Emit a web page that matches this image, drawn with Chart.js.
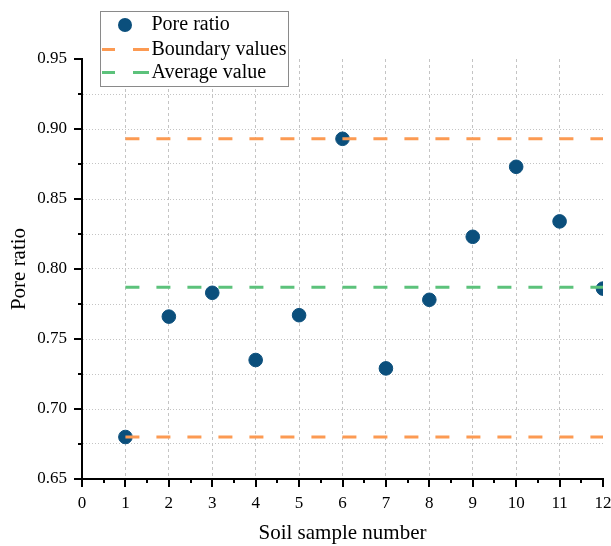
<!DOCTYPE html>
<html>
<head>
<meta charset="utf-8">
<script src="https://cdn.jsdelivr.net/npm/chart.js@4"></script>
<style>
  html, body { margin: 0; padding: 0; background: #fff; }
  #wrap { width: 611px; height: 546px; }
</style>
</head>
<body>
<div id="wrap"><canvas id="c" width="611" height="546"></canvas></div>
<script>
// ---- data ----
const sampleNumbers = [1, 2, 3, 4, 5, 6, 7, 8, 9, 10, 11, 12];
const poreRatio = [0.680, 0.766, 0.783, 0.735, 0.767, 0.893, 0.729, 0.778, 0.823, 0.873, 0.834, 0.786];
const boundaryLower = 0.680;
const boundaryUpper = 0.893;
const averageValue = 0.787;
const lineStartX = 1;
const lineEndX = 12;
const xAxisMin = 0, xAxisMax = 12;
const yAxisMin = 0.65, yAxisMax = 0.95;
const seriesLabels = ['Pore ratio', 'Boundary values', 'Average value'];
const axisTitles = { x: 'Soil sample number', y: 'Pore ratio' };

const COL_POINT = '#0B4F7C';
const COL_BOUND = '#FC9A52';
const COL_AVG = '#5CC27B';
const FONT = '"Liberation Serif", "Times New Roman", serif';

const scatterData = sampleNumbers.map((x, i) => ({ x: x, y: poreRatio[i] }));
const hLine = (v) => [{ x: lineStartX, y: v }, { x: lineEndX, y: v }];

const isMajor = (v, step) => Math.abs(v / step - Math.round(v / step)) < 1e-6;

const axisTicksPlugin = {
  id: 'axisTicks',
  afterDraw(chart) {
    const ctx = chart.ctx;
    const xs = chart.scales.x, ys = chart.scales.y;
    ctx.save();
    ctx.strokeStyle = '#000';
    ctx.lineWidth = 2;
    ctx.beginPath();
    xs.ticks.forEach(t => {
      const px = Math.round(xs.getPixelForValue(t.value));
      const len = isMajor(t.value, 1) ? 8 : 4;
      ctx.moveTo(px, xs.top);
      ctx.lineTo(px, xs.top + len);
    });
    ys.ticks.forEach(t => {
      const py = Math.round(ys.getPixelForValue(t.value));
      const len = isMajor(t.value, 0.05) ? 8 : 4;
      ctx.moveTo(ys.right, py);
      ctx.lineTo(ys.right - len, py);
    });
    ctx.stroke();
    ctx.restore();
  }
};

const customLegendPlugin = {
  id: 'customLegend',
  afterDraw(chart) {
    const ctx = chart.ctx;
    const ds = chart.data.datasets;
    ctx.save();
    ctx.fillStyle = '#fff';
    ctx.fillRect(100, 11, 188, 75);
    ctx.strokeStyle = '#8a8a8a';
    ctx.lineWidth = 1;
    ctx.strokeRect(100.5, 11.5, 188, 75);
    const rows = [25, 49.5, 72.5];
    ctx.font = '20px ' + FONT;
    ctx.textBaseline = 'middle';
    ctx.textAlign = 'left';
    ctx.beginPath();
    ctx.arc(125, rows[0], 7, 0, Math.PI * 2);
    ctx.fillStyle = ds[0].backgroundColor;
    ctx.fill();
    [[ds[1].borderColor, rows[1]], [ds[3].borderColor, rows[2]]].forEach(([c, y]) => {
      ctx.strokeStyle = c;
      ctx.lineWidth = 3;
      ctx.beginPath();
      ctx.moveTo(102, y); ctx.lineTo(115, y);
      ctx.moveTo(133, y); ctx.lineTo(149, y);
      ctx.stroke();
    });
    ctx.fillStyle = '#000';
    ctx.fillText(ds[0].label, 151.5, rows[0]);
    ctx.fillText(ds[1].label, 151.5, rows[1]);
    ctx.fillText(ds[3].label, 151.5, rows[2]);
    ctx.restore();
  }
};

const lineStyle = (color) => ({
  type: 'line',
  borderColor: color,
  backgroundColor: color,
  borderWidth: 3,
  borderDash: [14, 17],
  pointRadius: 0,
  showLine: true,
  fill: false,
  order: 0
});

new Chart(document.getElementById('c'), {
  type: 'scatter',
  data: {
    datasets: [
      { label: seriesLabels[0], data: scatterData, backgroundColor: COL_POINT, borderColor: COL_POINT,
        pointRadius: 6.8, pointHoverRadius: 6.8, order: 1 },
      Object.assign({ label: seriesLabels[1], data: hLine(boundaryLower) }, lineStyle(COL_BOUND)),
      Object.assign({ label: seriesLabels[1], data: hLine(boundaryUpper) }, lineStyle(COL_BOUND)),
      Object.assign({ label: seriesLabels[2], data: hLine(averageValue) }, lineStyle(COL_AVG))
    ]
  },
  options: {
    responsive: false,
    animation: false,
    events: [],
    layout: { padding: { top: 59, right: 8, bottom: 0, left: 0 } },
    plugins: { legend: { display: false }, tooltip: { enabled: false } },
    scales: {
      x: {
        type: 'linear', min: xAxisMin, max: xAxisMax,
        afterFit(s) { s.height = 67; s.paddingLeft = 0; s.paddingRight = 0; },
        border: { display: true, color: '#000', width: 2, dash: [3, 3] },
        grid: {
          drawTicks: false,
          lineWidth: 1,
          color: (c) => {
            const v = c.tick ? c.tick.value : 0;
            return (isMajor(v, 1) && v > xAxisMin && v < xAxisMax) ? '#c4c4c4' : 'rgba(0,0,0,0)';
          }
        },
        ticks: {
          stepSize: 0.5, autoSkip: false, maxRotation: 0, padding: 14,
          color: '#000', font: { family: FONT, size: 17 },
          callback: (v) => isMajor(v, 1) ? String(Math.round(v)) : ''
        },
        title: { display: true, text: axisTitles.x, color: '#000', font: { family: FONT, size: 21 },
          padding: { top: 0, bottom: 0 } }
      },
      y: {
        type: 'linear', min: yAxisMin, max: yAxisMax,
        afterFit(s) { s.width = 82; s.paddingTop = 0; s.paddingBottom = 0; },
        border: { display: true, color: '#000', width: 2, dash: [1, 2] },
        grid: {
          drawTicks: false,
          lineWidth: 1,
          color: (c) => {
            const v = c.tick ? c.tick.value : 0;
            return (v > yAxisMin + 1e-6 && v < yAxisMax - 1e-6) ? '#c4c4c4' : 'rgba(0,0,0,0)';
          }
        },
        ticks: {
          stepSize: 0.025, autoSkip: false, padding: 15,
          color: '#000', font: { family: FONT, size: 17 },
          callback: (v) => isMajor(v, 0.05) ? v.toFixed(2) : ''
        },
        title: { display: true, text: axisTitles.y, color: '#000', font: { family: FONT, size: 21 },
          padding: { top: 7, bottom: 0 } }
      }
    }
  },
  plugins: [axisTicksPlugin, customLegendPlugin]
});
</script>
</body>
</html>
